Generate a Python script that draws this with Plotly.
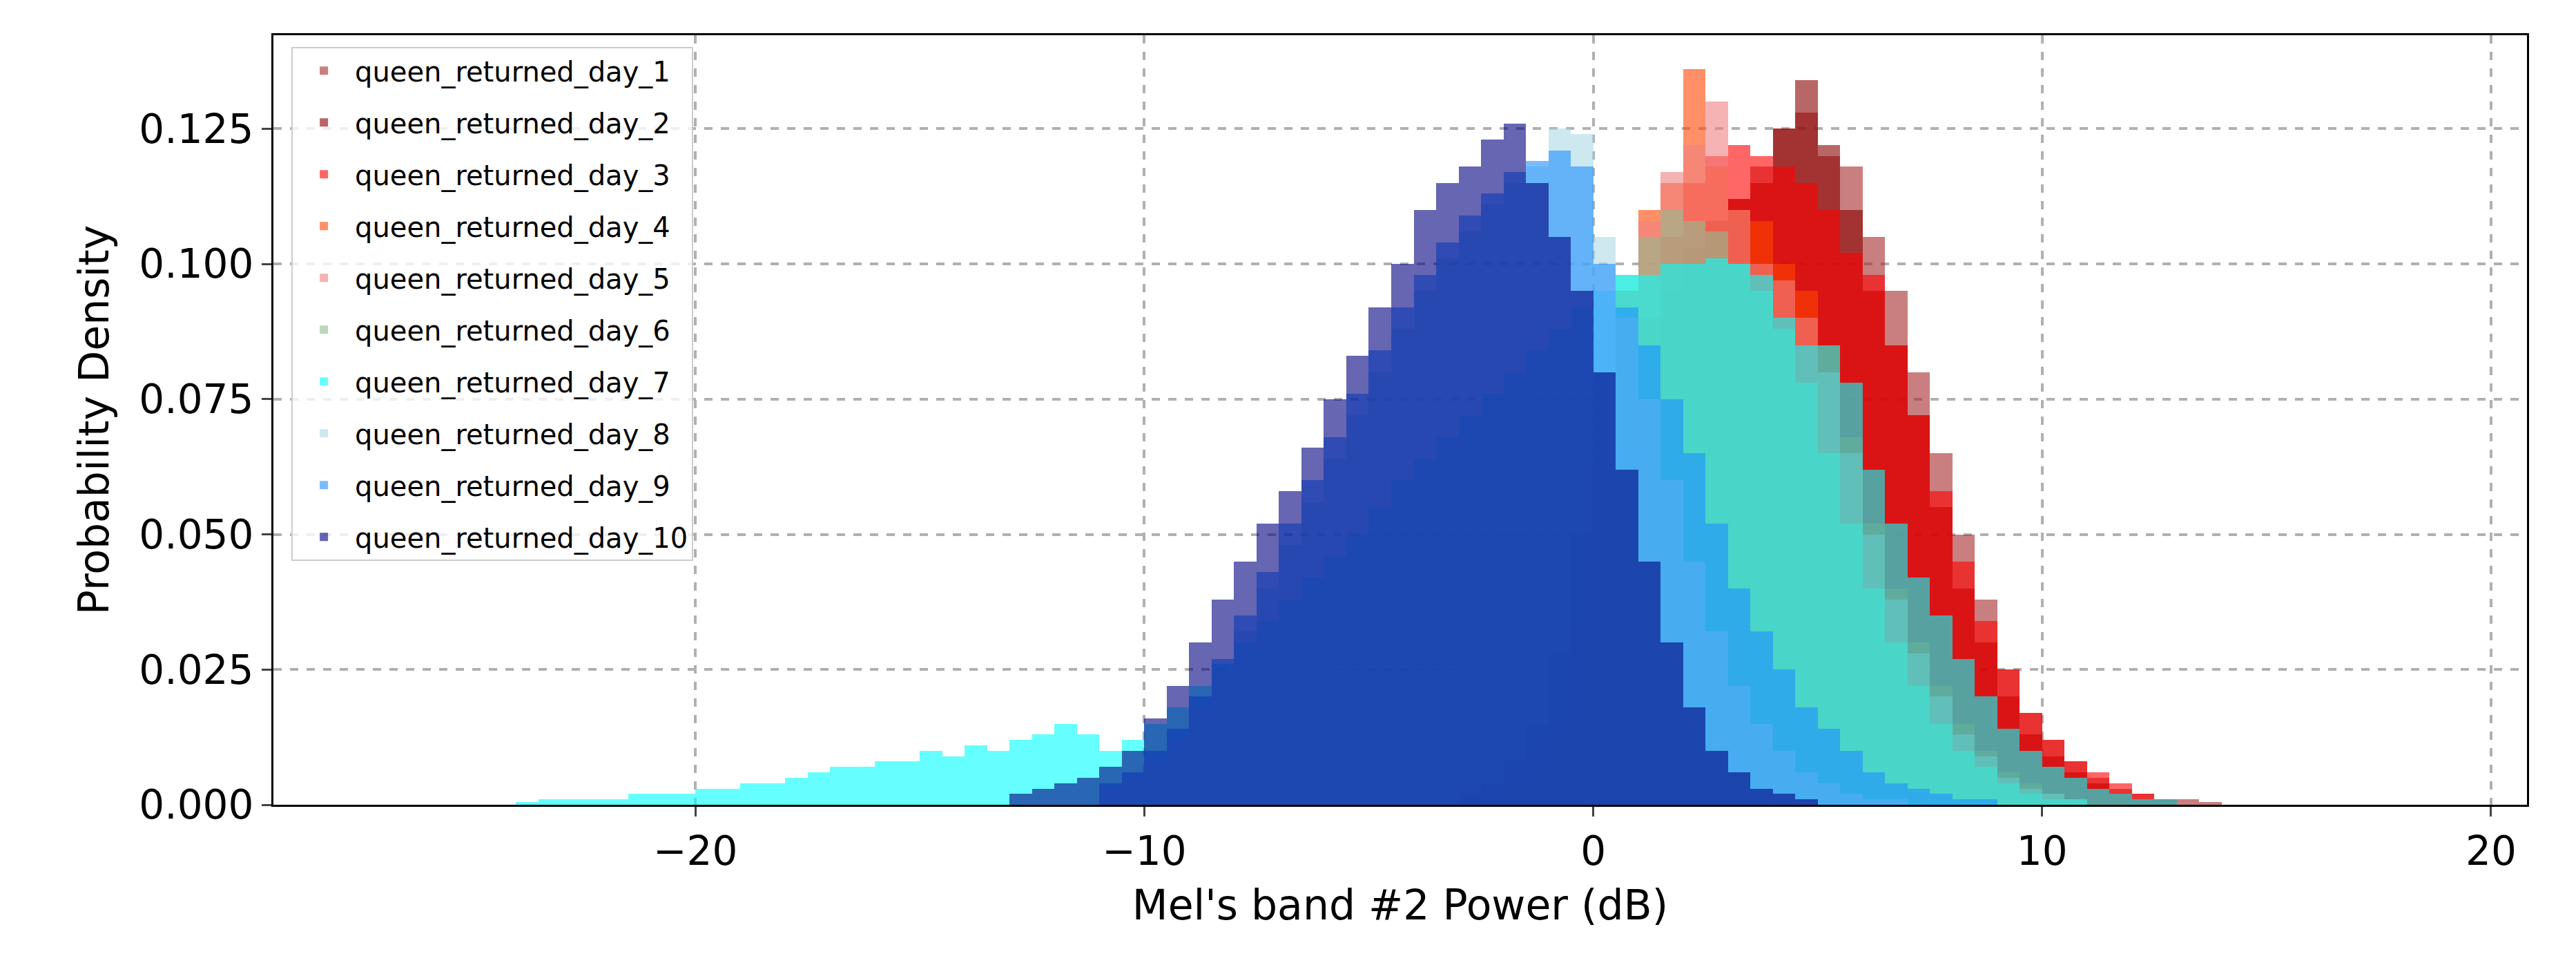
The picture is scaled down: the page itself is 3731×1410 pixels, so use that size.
import plotly.graph_objects as go

BIN = 0.5
names = [f"queen_returned_day_{i}" for i in range(1, 11)]
colors = ["rgba(165,42,42,0.6)", "rgba(139,0,0,0.6)", "rgba(255,0,0,0.6)", "rgba(255,69,0,0.6)",
          "rgba(240,128,128,0.6)", "rgba(143,188,143,0.6)", "rgba(0,255,255,0.6)",
          "rgba(173,216,230,0.6)", "rgba(30,144,255,0.6)", "rgba(0,0,128,0.6)"]

day1_start = -3
day1 = [0.002,0.003,0.005,0.008,0.012,0.020,0.035,0.055,0.075,0.090,0.100,0.108,0.112,0.118,0.125,0.128,
        0.120,0.118,0.105,0.095,0.080,0.065,0.050,0.038,0.025,0.017,0.012,0.008,0.005,0.003,0.002,0.001,0.001,0.0005]
day2_start = -2
day2 = [0.003,0.006,0.012,0.022,0.040,0.060,0.080,0.095,0.103,0.108,0.112,0.115,0.125,0.134,
        0.122,0.110,0.095,0.085,0.072,0.055,0.040,0.030,0.020,0.013,0.009,0.006,0.004,0.002,0.001,0.001]
day3_start = -2
day3 = [0.003,0.006,0.012,0.022,0.040,0.065,0.090,0.105,0.115,0.120,0.122,0.120,0.118,0.115,
        0.110,0.102,0.098,0.085,0.072,0.058,0.045,0.034,0.025,0.017,0.012,0.008,0.006,0.004,0.002,0.001]
day4_start = -2
day4 = [0.003,0.007,0.015,0.030,0.060,0.095,0.110,0.115,0.136,0.118,0.110,0.108,0.100,0.095,
        0.085,0.068,0.052,0.040,0.030,0.022,0.015,0.010,0.006,0.004,0.002,0.001]
day5_start = -2
day5 = [0.003,0.007,0.015,0.032,0.062,0.095,0.108,0.117,0.122,0.130,0.110,0.100,0.097,0.090,
        0.080,0.065,0.050,0.038,0.028,0.020,0.013,0.009,0.005,0.003,0.002,0.001]
day6_start = -3
day6 = [0.002,0.004,0.008,0.015,0.028,0.050,0.080,0.098,0.105,0.110,0.108,0.106,0.100,0.095,
        0.088,0.078,0.065,0.052,0.040,0.030,0.022,0.015,0.010,0.007,0.004,0.002,0.001,0.001]
day7_start = -24
day7 = [0.0005,0.001,0.001,0.001,0.001,0.002,0.002,0.002,0.003,0.003,0.004,0.004,0.005,0.006,
        0.007,0.007,0.008,0.008,0.010,0.009,0.011,0.010,0.012,0.013,0.015,0.013,0.010,0.012,
        0.015,0.018,0.022,0.026,0.030,0.034,0.038,0.042,0.046,0.050,0.055,0.060,0.064,0.068,
        0.072,0.076,0.080,0.084,0.088,0.092,0.095,0.098,0.098,0.100,0.100,0.101,0.100,0.098,
        0.090,0.085,0.085,0.078,0.062,0.052,0.042,0.035,0.027,0.020,0.014,0.010,0.007,0.005,
        0.003,0.002,0.001,0.001]
day8_start = -11
day8 = [0.003,0.005,0.008,0.012,0.018,0.025,0.032,0.040,0.048,0.056,0.064,0.072,0.080,0.088,
        0.095,0.101,0.106,0.111,0.115,0.118,0.125,0.124,0.105,0.090,0.075,0.060,0.045,0.032,
        0.022,0.015,0.010,0.006,0.004,0.002,0.001,0.001]
day9_start = -11
day9 = [0.004,0.006,0.010,0.014,0.020,0.027,0.035,0.043,0.052,0.060,0.068,0.076,0.084,0.092,
        0.098,0.104,0.109,0.113,0.117,0.119,0.121,0.118,0.100,0.092,0.085,0.075,0.065,0.052,
        0.040,0.032,0.025,0.018,0.014,0.010,0.006,0.004,0.003,0.002,0.001,0.001]
day10_start = -13
day10 = [0.002,0.003,0.004,0.005,0.007,0.010,0.016,0.022,0.030,0.038,0.045,0.052,0.058,0.066,
         0.075,0.083,0.092,0.100,0.110,0.115,0.118,0.123,0.126,0.115,0.105,0.095,0.080,0.062,
         0.045,0.030,0.018,0.010,0.006,0.003,0.002,0.001]

series = [(day1_start, day1), (day2_start, day2), (day3_start, day3), (day4_start, day4),
          (day5_start, day5), (day6_start, day6), (day7_start, day7), (day8_start, day8),
          (day9_start, day9), (day10_start, day10)]

x_ticks = [-20, -10, 0, 10, 20]
y_ticks = [0.0, 0.025, 0.05, 0.075, 0.1, 0.125]
y_labels = ["0.000", "0.025", "0.050", "0.075", "0.100", "0.125"]

fig = go.Figure()
for i, ((start, vals), name, col) in enumerate(zip(series, names, colors)):
    xs = [start + BIN * (k + 0.5) for k in range(len(vals))]
    fig.add_trace(go.Bar(x=xs, y=vals, width=BIN, name=name, marker_color=col,
                         marker_line_width=0, legendgroup=str(i)))

fig.update_layout(
    width=3731, height=1410, barmode="overlay", bargap=0,
    paper_bgcolor="white", plot_bgcolor="white",
    font=dict(family="DejaVu Sans", color="black"),
    margin=dict(l=388, r=79, t=43, b=253),
    legend=dict(x=0.008, y=0.985, xanchor="left", yanchor="top",
                font=dict(size=40), bordercolor="#cccccc", borderwidth=2,
                bgcolor="rgba(255,255,255,0.8)", tracegroupgap=20,
                itemwidth=80),
    xaxis=dict(range=[-29.4, 20.8], tickvals=x_ticks, ticktext=["−20", "−10", "0", "10", "20"],
               showgrid=True, gridcolor="#b0b0b0", griddash="dash", gridwidth=4,
               zeroline=False, showline=True, linecolor="black", linewidth=3, mirror=True,
               ticks="outside", ticklen=14, tickwidth=3, tickfont=dict(size=58),
               title=dict(text="Mel's band #2 Power (dB)", font=dict(size=60), standoff=25)),
    yaxis=dict(range=[0, 0.1423], tickvals=y_ticks, ticktext=y_labels,
               showgrid=True, gridcolor="#b0b0b0", griddash="dash", gridwidth=4,
               zeroline=False, showline=True, linecolor="black", linewidth=3, mirror=True,
               ticks="outside", ticklen=14, tickwidth=3, tickfont=dict(size=58),
               title=dict(text="Probability Density", font=dict(size=60), standoff=25)),
)
fig.write_html("out.html")
